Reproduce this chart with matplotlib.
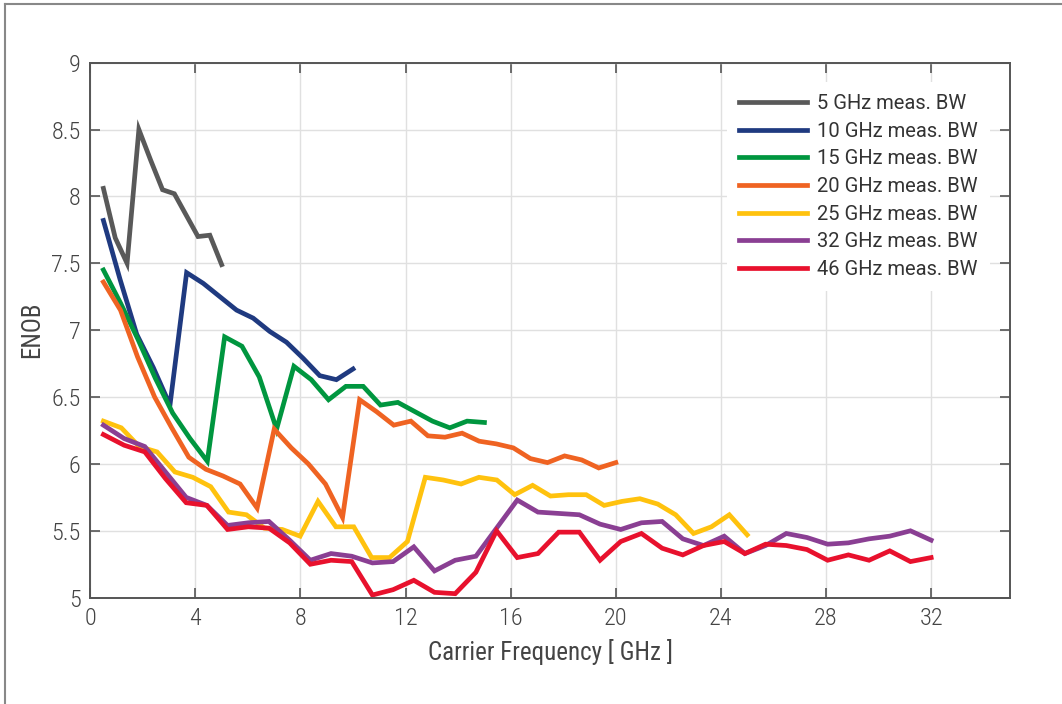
import numpy as np
import matplotlib
matplotlib.use("Agg")
import matplotlib.pyplot as plt
from matplotlib.lines import Line2D

plt.rcParams['font.family'] = ['Roboto Condensed', 'Roboto', 'DejaVu Sans']
plt.rcParams['font.weight'] = 'light'

# ---- data (ENOB vs carrier frequency) ----
labels = ["5 GHz meas. BW", "10 GHz meas. BW", "15 GHz meas. BW",
          "20 GHz meas. BW", "25 GHz meas. BW", "32 GHz meas. BW",
          "46 GHz meas. BW"]
colors = ["#595959", "#1f3a80", "#00963f", "#ef6322", "#ffc20e",
          "#8a3f93", "#e8112d"]

f_5 = np.linspace(0.5, 5, 11)
enob_5 = [8.06, 7.69, 7.50, 8.50, 8.27, 8.05, 8.02, 7.86, 7.70, 7.71, 7.49]

f_10 = np.linspace(0.5, 10, 16)
enob_10 = [7.82, 7.38, 6.97, 6.72, 6.44, 7.43, 7.35, 7.25, 7.15, 7.09,
           6.99, 6.91, 6.79, 6.66, 6.63, 6.71]

f_15 = np.linspace(0.5, 15, 23)
enob_15 = [7.45, 7.20, 6.93, 6.64, 6.38, 6.19, 6.02, 6.95, 6.88, 6.65,
           6.26, 6.73, 6.63, 6.48, 6.58, 6.58, 6.44, 6.46, 6.39, 6.32,
           6.27, 6.32, 6.31]

f_20 = np.linspace(0.5, 20, 31)
enob_20 = [7.36, 7.15, 6.80, 6.50, 6.27, 6.05, 5.96, 5.91, 5.85, 5.67,
           6.26, 6.12, 6.00, 5.85, 5.60, 6.48, 6.39, 6.29, 6.32, 6.21,
           6.20, 6.23, 6.17, 6.15, 6.12, 6.04, 6.01, 6.06, 6.03, 5.97,
           6.01]

f_25 = np.linspace(0.5, 25, 37)
enob_25 = [6.32, 6.27, 6.13, 6.09, 5.94, 5.90, 5.83, 5.64, 5.62, 5.52,
           5.51, 5.46, 5.72, 5.53, 5.53, 5.30, 5.30, 5.42, 5.90, 5.88,
           5.85, 5.90, 5.88, 5.77, 5.84, 5.76, 5.77, 5.77, 5.69, 5.72,
           5.74, 5.70, 5.62, 5.48, 5.53, 5.62, 5.47]

f_32 = np.linspace(0.5, 32, 41)
enob_32 = [6.29, 6.19, 6.13, 5.94, 5.75, 5.69, 5.54, 5.56, 5.57, 5.43,
           5.28, 5.33, 5.31, 5.26, 5.27, 5.38, 5.20, 5.28, 5.31, 5.52,
           5.73, 5.64, 5.63, 5.62, 5.55, 5.51, 5.56, 5.57, 5.44, 5.39,
           5.46, 5.33, 5.39, 5.48, 5.45, 5.40, 5.41, 5.44, 5.46, 5.50,
           5.43]

f_46 = np.linspace(0.5, 32, 41)
enob_46 = [6.22, 6.14, 6.09, 5.89, 5.71, 5.69, 5.51, 5.53, 5.52, 5.41,
           5.25, 5.28, 5.27, 5.02, 5.06, 5.13, 5.04, 5.03, 5.19, 5.50,
           5.30, 5.33, 5.49, 5.49, 5.28, 5.42, 5.48, 5.37, 5.32, 5.39,
           5.42, 5.33, 5.40, 5.39, 5.36, 5.28, 5.32, 5.28, 5.35, 5.27,
           5.30]

freqs = [f_5, f_10, f_15, f_20, f_25, f_32, f_46]
enobs = [enob_5, enob_10, enob_15, enob_20, enob_25, enob_32, enob_46]

x_ticks = [0, 4, 8, 12, 16, 20, 24, 28, 32]
y_ticks = [5, 5.5, 6, 6.5, 7, 7.5, 8, 8.5, 9]

# ---- plot ----
fig = plt.figure(figsize=(10.62, 7.04), dpi=100)
ax = fig.add_axes([0.085, 0.151, 0.866, 0.760])

for f, e, c, lab in zip(freqs, enobs, colors, labels):
    ax.plot(f, e, color=c, lw=3.4, label=lab, solid_joinstyle="miter")

ax.set_xlim(0, 35)
ax.set_ylim(5, 9)
ax.set_xticks(x_ticks)
ax.set_yticks(y_ticks)
ax.set_yticklabels(["%g" % v for v in y_ticks])
ax.grid(True, color="#e0e0e0", lw=1)
ax.set_axisbelow(True)
for s in ax.spines.values():
    s.set_color("#555555")
    s.set_linewidth(1.4)
ax.tick_params(direction="in", length=7, width=1.2, color="#555555",
               top=True, right=True, labelsize=17.5, labelcolor="#444444",
               pad=7)

ax.set_xlabel("Carrier Frequency [ GHz ]", fontsize=18, color="#444444",
              labelpad=6)
ax.set_ylabel("ENOB", fontsize=18, color="#444444", labelpad=5)

leg = ax.legend(loc="upper left", bbox_to_anchor=(0.692, 0.964),
                prop={"family": ["Roboto", "DejaVu Sans"], "size": 14.5,
                      "weight": "normal"},
                frameon=True, handlelength=3.4, handletextpad=0.5,
                labelspacing=0.43, borderpad=0.6, borderaxespad=0)
leg.get_frame().set_edgecolor("none")
leg.get_frame().set_facecolor("white")
leg.get_frame().set_alpha(1)
for t in leg.get_texts():
    t.set_color("#333333")

# outer frame (top and left edge visible in the figure)
fig.add_artist(Line2D([0.005, 1.0], [0.995, 0.995], color="#888888", lw=1.5))
fig.add_artist(Line2D([0.005, 0.005], [0.0, 0.995], color="#888888", lw=1.5))

fig.savefig("out.png", dpi=100)
